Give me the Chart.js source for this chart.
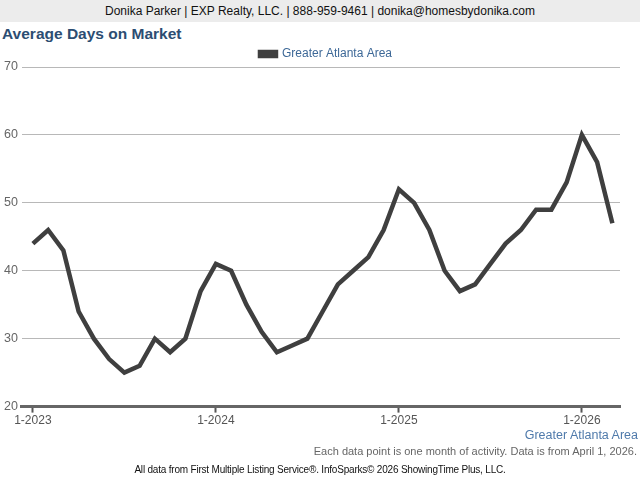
<!DOCTYPE html>
<html>
<head>
<meta charset="utf-8">
<script src="https://cdn.jsdelivr.net/npm/chart.js@4"></script>
<style>
    body { margin: 0; width: 640px; height: 480px; background: #fff; font-family: "Liberation Sans", Arial, sans-serif; position: relative; overflow: hidden; }
    #header { position: absolute; left: 0; top: 0; width: 640px; height: 22px; background: #ececec; color: #111; font-size: 12px; text-align: center; line-height: 23px; }
    #title { position: absolute; left: 2px; top: 25px; font-size: 15.5px; font-weight: bold; color: #2c4d72; }
    #wrap { position: absolute; left: 0; top: 42px; width: 640px; height: 387px; }
    #area { position: absolute; right: 2px; top: 428px; font-size: 12.5px; color: #4f7aab; }
    #note { position: absolute; right: 3px; top: 445px; font-size: 11px; color: #666; }
    #source { position: absolute; left: 0; width: 640px; top: 464px; font-size: 10px; color: #111; text-align: center; letter-spacing: -0.2px; }
</style>
</head>
<body>
<div id="header">Donika Parker | EXP Realty, LLC. | 888-959-9461 | donika@homesbydonika.com</div>
<div id="title">Average Days on Market</div>
<div id="wrap"><canvas id="chart"></canvas></div>
<div id="area">Greater Atlanta Area</div>
<div id="note">Each data point is one month of activity. Data is from April 1, 2026.</div>
<div id="source">All data from First Multiple Listing Service®. InfoSparks© 2026 ShowingTime Plus, LLC.</div>
<script>
// months from 1-2023 to 3-2026
const months = [
    "1-2023", "2-2023", "3-2023", "4-2023", "5-2023", "6-2023", "7-2023", "8-2023", "9-2023", "10-2023", "11-2023", "12-2023",
    "1-2024", "2-2024", "3-2024", "4-2024", "5-2024", "6-2024", "7-2024", "8-2024", "9-2024", "10-2024", "11-2024", "12-2024",
    "1-2025", "2-2025", "3-2025", "4-2025", "5-2025", "6-2025", "7-2025", "8-2025", "9-2025", "10-2025", "11-2025", "12-2025",
    "1-2026", "2-2026", "3-2026"
];
const atlanta = [
    44, 46, 43, 34, 30, 27, 25, 26, 30, 28, 30, 37,
    41, 40, 35, 31, 28, 29, 30, 34, 38, 40, 42, 46,
    52, 50, 46, 40, 37, 38, 41, 44, 46, 49, 49, 53,
    60, 56, 47
];
const seriesName = "Greater Atlanta Area";
const yTicks = [20, 30, 40, 50, 60, 70];
const xTickLabels = ["1-2023", "1-2024", "1-2025", "1-2026"];

const points = atlanta.map((v, i) => ({ x: i, y: v }));
const xTickPos = xTickLabels.map(l => months.indexOf(l));

// legend sits a bit right of the plot centre and close to the top gridline
const legendShift = {
    id: "legendShift",
    afterLayout(chart) {
        chart.legend.left += 16;
        chart.legend.right += 16;
        chart.legend.top += 3;
        chart.legend.bottom += 3;
    }
};

new Chart(document.getElementById("chart"), {
    type: "line",
    data: {
        datasets: [{
            label: seriesName,
            data: points,
            borderColor: "#3f3f3f",
            backgroundColor: "#3f3f3f",
            borderWidth: 4.5,
            pointRadius: 0,
            tension: 0,
            fill: false
        }]
    },
    options: {
        responsive: true,
        maintainAspectRatio: false,
        animation: false,
        layout: { padding: { left: 0, right: 20, top: 0, bottom: 0 } },
        scales: {
            x: {
                type: "linear",
                min: -0.72,
                max: 38.5,
                afterBuildTicks: axis => { axis.ticks = xTickPos.map(v => ({ value: v })); },
                ticks: {
                    autoSkip: false,
                    maxRotation: 0,
                    color: "#555",
                    font: { family: "Liberation Sans", size: 12 },
                    padding: 1,
                    callback: v => months[v]
                },
                grid: {
                    drawOnChartArea: false,
                    drawTicks: true,
                    tickLength: 6,
                    tickWidth: 2,
                    tickColor: "#555"
                },
                border: { display: true, color: "#666", width: 3 }
            },
            y: {
                min: 20,
                max: 70,
                afterBuildTicks: axis => { axis.ticks = yTicks.map(v => ({ value: v })); },
                ticks: {
                    color: "#666",
                    font: { family: "Liberation Sans", size: 12.5 },
                    padding: 4
                },
                grid: { color: "#b8b8b8", lineWidth: 1, drawTicks: false },
                border: { display: false }
            }
        },
        plugins: {
            legend: {
                display: true,
                labels: {
                    boxWidth: 16,
                    boxHeight: 4,
                    color: "#3d6897",
                    font: { family: "Liberation Sans", size: 12 },
                    padding: 3
                }
            },
            tooltip: { enabled: false }
        }
    },
    plugins: [legendShift]
});
</script>
</body>
</html>
